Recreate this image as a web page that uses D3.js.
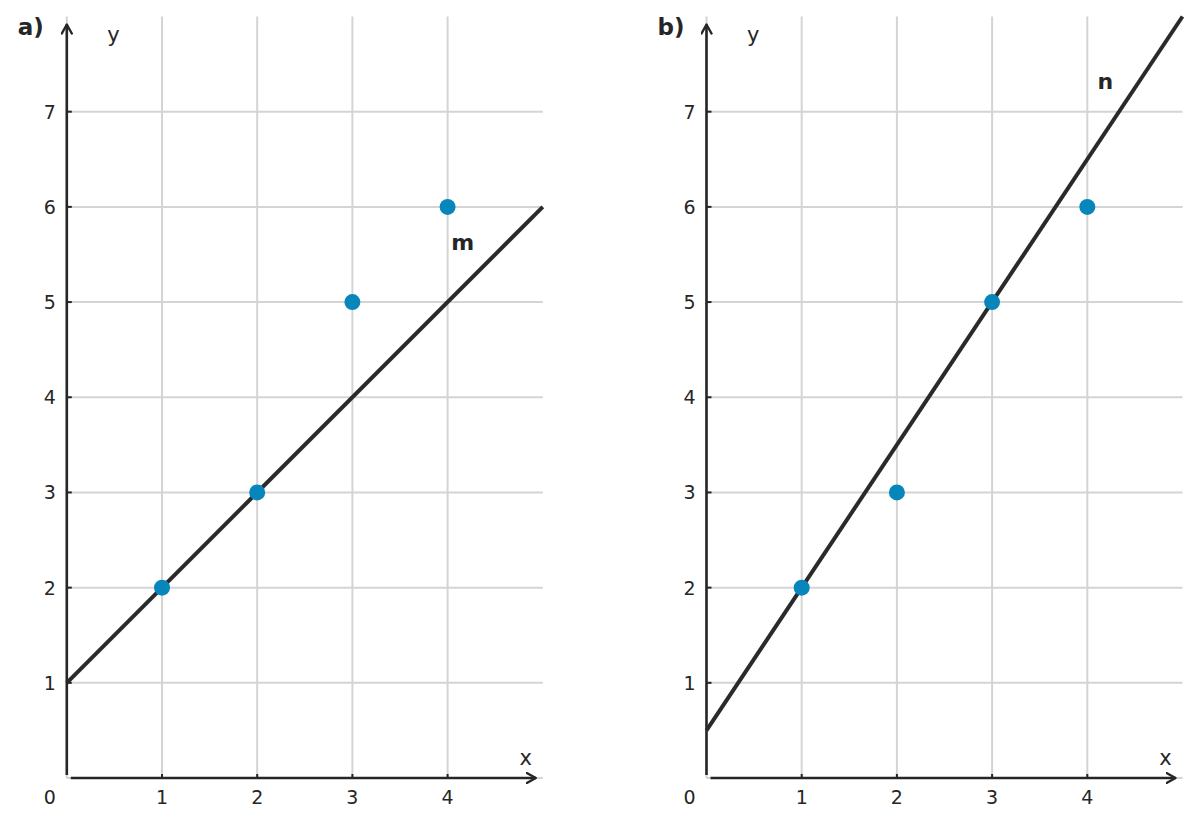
<!DOCTYPE html>
<html>
<head>
<meta charset="utf-8">
<script src="https://cdn.jsdelivr.net/npm/d3@7"></script>
<style>
  body { margin: 0; background: #fff; }
  svg { display: block; font-family: "DejaVu Sans", sans-serif; }
</style>
</head>
<body>
<div id="chart"></div>
<script>
// data
const pointsX = [1, 2, 3, 4];
const pointsY = [2, 3, 5, 6];
const panelNames = ["a)", "b)"];
const lineNames = ["m", "n"];
const lineIntercepts = [1, 0.5];
const lineSlopes = [1, 1.5];
const xTicks = [1, 2, 3, 4];
const yTicks = [1, 2, 3, 4, 5, 6, 7];

const width = 1200, height = 827;
const ink = "#262626";
const dotColor = "#0786bb";

const svg = d3.select("#chart").append("svg")
    .attr("width", width)
    .attr("height", height);

svg.append("defs").append("marker")
    .attr("id", "arrow")
    .attr("viewBox", "0 0 12 12")
    .attr("refX", 10).attr("refY", 6)
    .attr("markerWidth", 12).attr("markerHeight", 12)
    .attr("markerUnits", "userSpaceOnUse")
    .attr("orient", "auto")
    .append("path")
    .attr("d", "M1,1 L10,6 L1,11")
    .attr("fill", "none")
    .attr("stroke", ink)
    .attr("stroke-width", 2.4)
    .attr("stroke-linecap", "round")
    .attr("stroke-linejoin", "round");

function drawPanel(i, left) {
    const x = d3.scaleLinear().domain([0, 5]).range([left, left + 476]);
    const y = d3.scaleLinear().domain([0, 8]).range([778, 16.5]);
    const g = svg.append("g");

    // grid
    g.append("g").selectAll("line")
        .data([0, ...xTicks])
        .join("line")
        .attr("x1", d => x(d)).attr("x2", d => x(d))
        .attr("y1", y(8)).attr("y2", y(0))
        .attr("stroke", "#d4d4d4").attr("stroke-width", 2);
    g.append("g").selectAll("line")
        .data([0, ...yTicks])
        .join("line")
        .attr("x1", x(0)).attr("x2", x(5))
        .attr("y1", d => y(d)).attr("y2", d => y(d))
        .attr("stroke", "#d4d4d4").attr("stroke-width", 2);

    // axes with arrows
    g.append("line")
        .attr("x1", x(0)).attr("x2", x(0))
        .attr("y1", y(0) - 3).attr("y2", y(8) + 8)
        .attr("stroke", ink).attr("stroke-width", 2.6)
        .attr("marker-end", "url(#arrow)");
    g.append("line")
        .attr("x1", x(0) + 4).attr("x2", x(5) - 7)
        .attr("y1", y(0)).attr("y2", y(0))
        .attr("stroke", ink).attr("stroke-width", 2.6)
        .attr("marker-end", "url(#arrow)");

    // tick marks
    g.append("g").selectAll("line")
        .data(xTicks)
        .join("line")
        .attr("x1", d => x(d)).attr("x2", d => x(d))
        .attr("y1", y(0)).attr("y2", y(0) - 4)
        .attr("stroke", ink).attr("stroke-width", 2);
    g.append("g").selectAll("line")
        .data(yTicks)
        .join("line")
        .attr("x1", x(0)).attr("x2", x(0) + 5)
        .attr("y1", d => y(d)).attr("y2", d => y(d))
        .attr("stroke", ink).attr("stroke-width", 2);

    // tick labels
    g.append("g").selectAll("text")
        .data(xTicks)
        .join("text")
        .attr("x", d => x(d)).attr("y", y(0) + 26)
        .attr("text-anchor", "middle")
        .attr("font-size", 19).attr("fill", ink)
        .text(d => d);
    g.append("g").selectAll("text")
        .data(yTicks)
        .join("text")
        .attr("x", x(0) - 11).attr("y", d => y(d) + 7)
        .attr("text-anchor", "end")
        .attr("font-size", 19).attr("fill", ink)
        .text(d => d);
    g.append("text")
        .attr("x", x(0) - 11).attr("y", y(0) + 26)
        .attr("text-anchor", "end")
        .attr("font-size", 19).attr("fill", ink)
        .text("0");

    // axis names and panel label
    g.append("text")
        .attr("x", x(0.49)).attr("y", 42)
        .attr("text-anchor", "middle")
        .attr("font-size", 21).attr("fill", ink)
        .text("y");
    g.append("text")
        .attr("x", x(4.82)).attr("y", 765)
        .attr("text-anchor", "middle")
        .attr("font-size", 21).attr("fill", ink)
        .text("x");
    g.append("text")
        .attr("x", x(0) - 49).attr("y", 35)
        .attr("font-size", 23).attr("font-weight", "bold").attr("fill", ink)
        .text(panelNames[i]);

    // fitted line
    const a = lineIntercepts[i], b = lineSlopes[i];
    const xEnd = Math.min(5, (8 - a) / b);
    g.append("line")
        .attr("x1", x(0)).attr("y1", y(a))
        .attr("x2", x(xEnd)).attr("y2", y(a + b * xEnd))
        .attr("stroke", "#2a2a2a").attr("stroke-width", 4)
        .attr("stroke-linecap", "butt");

    // points
    g.append("g").selectAll("circle")
        .data(pointsX.map((d, k) => [d, pointsY[k]]))
        .join("circle")
        .attr("cx", d => x(d[0])).attr("cy", d => y(d[1]))
        .attr("r", 8)
        .attr("fill", dotColor);

    // line label
    const labelPos = i === 0 ? [4.16, 5.55] : [4.19, 7.24];
    g.append("text")
        .attr("x", x(labelPos[0])).attr("y", y(labelPos[1]))
        .attr("text-anchor", "middle")
        .attr("font-size", 22).attr("font-weight", "bold").attr("fill", ink)
        .text(lineNames[i]);
}

drawPanel(0, 66.8);
drawPanel(1, 706.5);
</script>
</body>
</html>
